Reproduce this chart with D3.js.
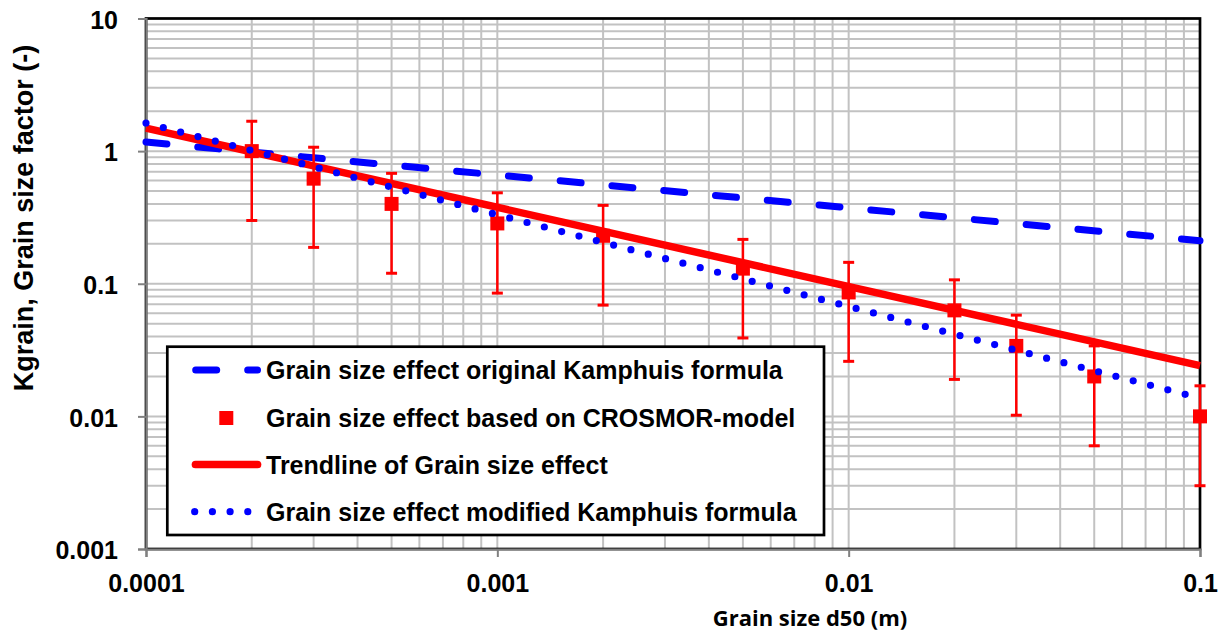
<!DOCTYPE html>
<html>
<head>
<meta charset="utf-8">
<script src="https://cdn.jsdelivr.net/npm/d3@7"></script>
<style>
  html, body { margin: 0; padding: 0; background: #ffffff; }
  svg { display: block; }
</style>
</head>
<body>
<svg id="chart" width="1225" height="634"></svg>
<script>
// Grain size d50 (m) of the CROSMOR model runs
const grainSizes = [0.0002, 0.0003, 0.0005, 0.001, 0.002, 0.005, 0.01, 0.02, 0.03, 0.05, 0.1];
// Grain size factor from CROSMOR, with lower and upper error bounds
const kCrosmor   = [1.0, 0.62, 0.40, 0.285, 0.23, 0.13, 0.086, 0.063, 0.034, 0.020, 0.010];
const kUpper     = [1.68, 1.07, 0.68, 0.485, 0.39, 0.216, 0.145, 0.107, 0.058, 0.034, 0.017];
const kLower     = [0.30, 0.188, 0.12, 0.085, 0.069, 0.039, 0.026, 0.019, 0.0102, 0.006, 0.003];

// Straight lines on log-log axes, given by their end points
const lineGrain      = [0.0001, 0.1];
const kOriginal      = [1.17, 0.211];
const kTrend         = [1.49, 0.0241];
const kModified      = [1.63, 0.0137];

const xTickValues = [0.0001, 0.001, 0.01, 0.1];
const yTickValues = [0.001, 0.01, 0.1, 1, 10];

const legendLabels = [
  "Grain size effect original Kamphuis formula",
  "Grain size effect based on CROSMOR-model",
  "Trendline of Grain size effect",
  "Grain size effect modified Kamphuis formula"
];

const RED = "#ff0000", BLUE = "#0000ff";
const svg = d3.select("#chart");

const x = d3.scaleLog().domain([0.0001, 0.1]).range([146, 1200]);
const y = d3.scaleLog().domain([0.001, 10]).range([549, 18.5]);

const labelFont = "'Liberation Sans', Arial, sans-serif";

// gridlines (major and minor)
const grid = svg.append("g").attr("stroke", "#c2c2c2").attr("stroke-width", 2);
grid.selectAll("line.v").data(x.ticks()).join("line")
  .attr("x1", d => x(d)).attr("x2", d => x(d))
  .attr("y1", y.range()[0]).attr("y2", y.range()[1]);
grid.selectAll("line.h").data(y.ticks()).join("line")
  .attr("y1", d => y(d)).attr("y2", d => y(d))
  .attr("x1", x.range()[0]).attr("x2", x.range()[1]);

// plot frame
svg.append("rect")
  .attr("x", x.range()[0]).attr("y", y.range()[1])
  .attr("width", x.range()[1] - x.range()[0])
  .attr("height", y.range()[0] - y.range()[1])
  .attr("fill", "none").attr("stroke", "#000").attr("stroke-width", 2.7);

// axes
const fmt = d3.format("~g");
const yAxis = svg.append("g").attr("transform", `translate(${x.range()[0]},0)`)
  .call(d3.axisLeft(y).tickValues(yTickValues).tickFormat(fmt).tickSize(8).tickPadding(20));
const xAxis = svg.append("g").attr("transform", `translate(0,${y.range()[0]})`)
  .call(d3.axisBottom(x).tickValues(xTickValues).tickFormat(fmt).tickSize(8).tickPadding(17));
[xAxis, yAxis].forEach(ax => {
  ax.select(".domain").attr("stroke", "#808080").attr("stroke-width", 2.2);
  ax.selectAll(".tick line").attr("stroke", "#808080").attr("stroke-width", 2);
  ax.selectAll(".tick text").attr("fill", "#000")
    .style("font-family", labelFont).style("font-weight", "bold").style("font-size", "25px");
});
yAxis.selectAll(".tick text").attr("dy", "0.39em");

// axis titles
svg.append("text")
  .attr("transform", "translate(33,218) rotate(-90)")
  .attr("text-anchor", "middle")
  .style("font-family", labelFont).style("font-weight", "bold").style("font-size", "27px")
  .text("Kgrain, Grain size factor (-)");
svg.append("text")
  .attr("x", 810).attr("y", 626)
  .attr("text-anchor", "middle")
  .style("font-family", "'Open Sans', sans-serif").style("font-weight", "bold").style("font-size", "22px")
  .text("Grain size d50 (m)");

const line = d3.line().x(d => x(d[0])).y(d => y(d[1]));
const pairs = ks => lineGrain.map((g, i) => [g, ks[i]]);

// original Kamphuis (dashed)
svg.append("path").datum(pairs(kOriginal)).attr("d", line)
  .attr("fill", "none").attr("stroke", BLUE).attr("stroke-width", 7)
  .attr("stroke-linecap", "round").attr("stroke-dasharray", "21,31");

// CROSMOR points with error bars
const pts = grainSizes.map((g, i) => ({g, k: kCrosmor[i], lo: kLower[i], hi: kUpper[i]}));
const eb = svg.append("g").attr("stroke", RED);
eb.selectAll("line.bar").data(pts).join("line")
  .attr("x1", d => x(d.g)).attr("x2", d => x(d.g))
  .attr("y1", d => y(d.lo)).attr("y2", d => y(d.hi)).attr("stroke-width", 2.5);
eb.selectAll("line.capHi").data(pts).join("line")
  .attr("x1", d => x(d.g) - 5.5).attr("x2", d => x(d.g) + 5.5)
  .attr("y1", d => y(d.hi)).attr("y2", d => y(d.hi)).attr("stroke-width", 3);
eb.selectAll("line.capLo").data(pts).join("line")
  .attr("x1", d => x(d.g) - 5.5).attr("x2", d => x(d.g) + 5.5)
  .attr("y1", d => y(d.lo)).attr("y2", d => y(d.lo)).attr("stroke-width", 3);
svg.append("g").selectAll("rect").data(pts).join("rect")
  .attr("x", d => x(d.g) - 7).attr("y", d => y(d.k) - 7)
  .attr("width", 14).attr("height", 14).attr("fill", RED);

// trendline
svg.append("path").datum(pairs(kTrend)).attr("d", line)
  .attr("fill", "none").attr("stroke", RED).attr("stroke-width", 7.5);

// modified Kamphuis (dotted)
svg.append("path").datum(pairs(kModified)).attr("d", line)
  .attr("fill", "none").attr("stroke", BLUE).attr("stroke-width", 7.2)
  .attr("stroke-linecap", "round").attr("stroke-dasharray", "0,17.9");

// legend
const lg = svg.append("g");
lg.append("rect").attr("x", 167.3).attr("y", 346.7).attr("width", 656.7).attr("height", 188.3)
  .attr("fill", "#fff").attr("stroke", "#000").attr("stroke-width", 2.7);
const rowY = [370, 418, 464.5, 511.7];
lg.append("line").attr("x1", 195.7).attr("x2", 257.5).attr("y1", rowY[0]).attr("y2", rowY[0])
  .attr("stroke", BLUE).attr("stroke-width", 7).attr("stroke-linecap", "round")
  .attr("stroke-dasharray", "21,31");
lg.append("rect").attr("x", 219.3).attr("y", rowY[1] - 7).attr("width", 14).attr("height", 14).attr("fill", RED);
lg.append("line").attr("x1", 195.5).attr("x2", 257.5).attr("y1", rowY[2]).attr("y2", rowY[2])
  .attr("stroke", RED).attr("stroke-width", 7.7).attr("stroke-linecap", "round");
lg.append("line").attr("x1", 194.7).attr("x2", 257).attr("y1", rowY[3]).attr("y2", rowY[3])
  .attr("stroke", BLUE).attr("stroke-width", 7.2).attr("stroke-linecap", "round")
  .attr("stroke-dasharray", "0,17.7");
lg.selectAll("text").data(legendLabels).join("text")
  .attr("x", 266).attr("y", (d, i) => rowY[i] + 9)
  .style("font-family", labelFont).style("font-weight", "bold").style("font-size", "25px")
  .text(d => d);
</script>
</body>
</html>
